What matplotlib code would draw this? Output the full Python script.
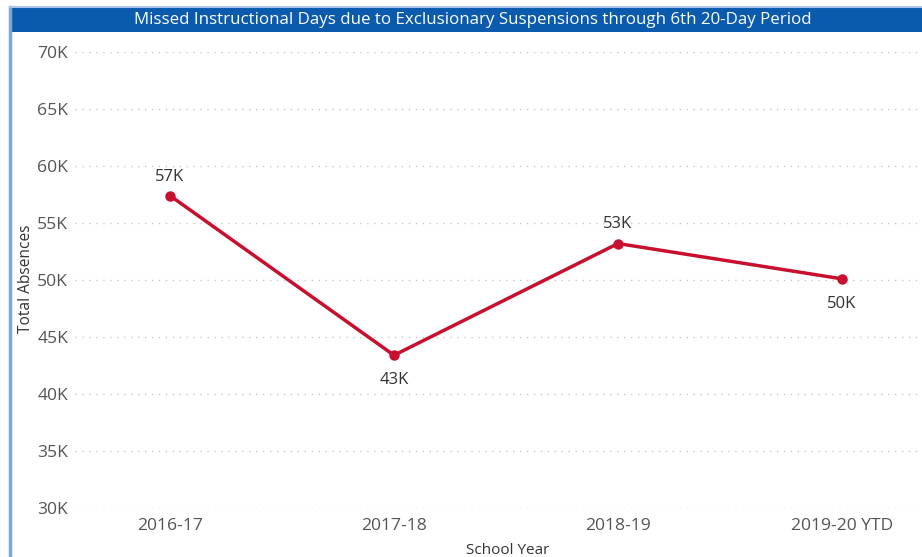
import matplotlib.pyplot as plt
from matplotlib.patches import Rectangle
from matplotlib.lines import Line2D
from matplotlib.ticker import FuncFormatter

# School years and total absences (thousands)
years = ['2016-17', '2017-18', '2018-19', '2019-20 YTD']
absences = [57.4, 43.4, 53.2, 50.1]
point_labels = ['57K', '43K', '53K', '50K']
label_above = [True, False, True, False]

plt.rcParams['font.family'] = ['Open Sans', 'DejaVu Sans']

W, H = 922, 557
fig = plt.figure(figsize=(W / 100, H / 100), dpi=100)

# frame: light blue left border + title bar
fig.add_artist(Line2D([9.5 / W, 9.5 / W], [0, 1 - 7 / H], color='#7fa7d4', lw=2.5))
fig.add_artist(Line2D([9.5 / W, 1], [1 - 7 / H, 1 - 7 / H], color='#a9c4e4', lw=1.5))
fig.add_artist(Rectangle((10 / W, 1 - 32 / H), 1 - 10 / W, 24 / H,
                         transform=fig.transFigure, color='#0a5aad', lw=0))
fig.text(473 / W, 1 - 20 / H,
         'Missed Instructional Days due to Exclusionary Suspensions through 6th 20-Day Period',
         ha='center', va='center', color='white', fontsize=12.2)

# axes: left x=75, right x=922, top y=52, bottom y=508
ax = fig.add_axes([75 / W, 1 - 508 / H, (922 - 75) / W, (508 - 52) / H])
x = list(range(len(years)))
ax.plot(x, absences, color='#c8102e', lw=2.5, marker='o', ms=6.5, zorder=3)

for xi, v, lab, above in zip(x, absences, point_labels, label_above):
    if above:
        ax.annotate(lab, (xi, v), xytext=(0, 8), textcoords='offset points',
                    ha='center', va='bottom', fontsize=12, color='#333333')
    else:
        ax.annotate(lab, (xi, v), xytext=(0, -12), textcoords='offset points',
                    ha='center', va='top', fontsize=12, color='#333333')

ax.set_ylim(30, 70)
ax.set_yticks(range(30, 71, 5))
ax.yaxis.set_major_formatter(FuncFormatter(lambda v, p: f'{int(v)}K'))
ax.set_xlim(-95 / 224, (922 - 170) / 224)
ax.set_xticks(x)
ax.set_xticklabels(years)

ax.grid(axis='y', linestyle=(0, (1, 4)), color='#c8c8c8', lw=1)
ax.set_axisbelow(True)
for s in ax.spines.values():
    s.set_visible(False)
ax.tick_params(length=0, labelsize=12.6, labelcolor='#555555')
ax.tick_params(axis='y', pad=5)
ax.tick_params(axis='x', pad=7)

fig.text(26 / W, 1 - 279 / H, 'Total Absences', rotation=90, ha='center', va='center',
         fontsize=11.2, color='#333333')
fig.text(508 / W, 1 - 550 / H, 'School Year', ha='center', va='center',
         fontsize=11, color='#333333')

fig.savefig('out.png', dpi=100, facecolor='white')
